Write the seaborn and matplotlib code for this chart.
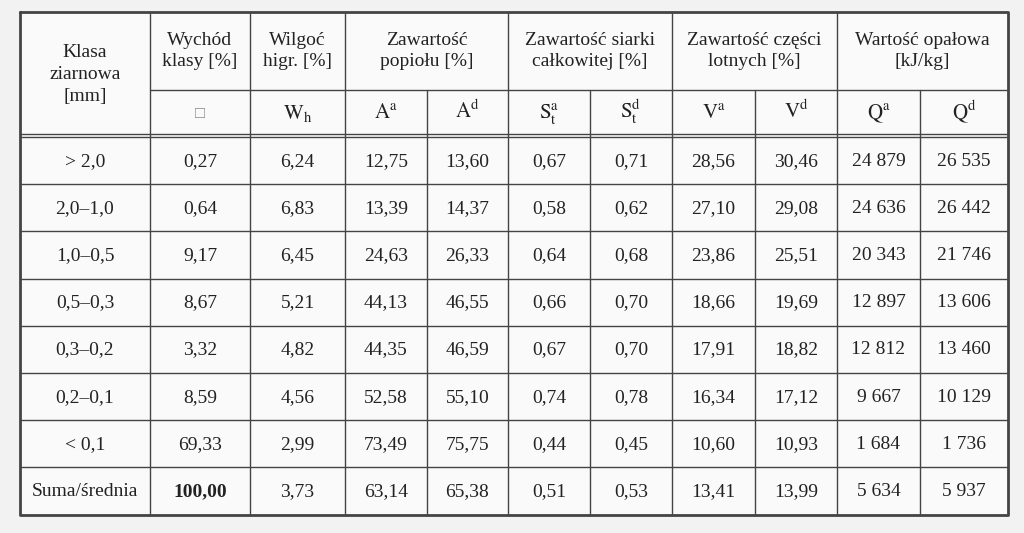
import matplotlib
matplotlib.use("Agg")
import matplotlib.pyplot as plt
import seaborn as sns

sns.set_style("white")
plt.rcParams["font.family"] = ["Liberation Serif", "DejaVu Serif"]
plt.rcParams["mathtext.fontset"] = "stix"

# --- dane tabeli ---
klasy = ["> 2,0", "2,0–1,0", "1,0–0,5", "0,5–0,3", "0,3–0,2", "0,2–0,1", "< 0,1", "Suma/średnia"]
wychod = ["0,27", "0,64", "9,17", "8,67", "3,32", "8,59", "69,33", "100,00"]
wilgoc = ["6,24", "6,83", "6,45", "5,21", "4,82", "4,56", "2,99", "3,73"]
popiol_a = ["12,75", "13,39", "24,63", "44,13", "44,35", "52,58", "73,49", "63,14"]
popiol_d = ["13,60", "14,37", "26,33", "46,55", "46,59", "55,10", "75,75", "65,38"]
siarka_a = ["0,67", "0,58", "0,64", "0,66", "0,67", "0,74", "0,44", "0,51"]
siarka_d = ["0,71", "0,62", "0,68", "0,70", "0,70", "0,78", "0,45", "0,53"]
lotne_a = ["28,56", "27,10", "23,86", "18,66", "17,91", "16,34", "10,60", "13,41"]
lotne_d = ["30,46", "29,08", "25,51", "19,69", "18,82", "17,12", "10,93", "13,99"]
q_a = ["24 879", "24 636", "20 343", "12 897", "12 812", "9 667", "1 684", "5 634"]
q_d = ["26 535", "26 442", "21 746", "13 606", "13 460", "10 129", "1 736", "5 937"]

naglowki_gora = ["Wychód\nklasy [%]", "Wilgoć\nhigr. [%]", "Zawartość\npopiołu [%]",
                 "Zawartość siarki\ncałkowitej [%]", "Zawartość części\nlotnych [%]",
                 "Wartość opałowa\n[kJ/kg]"]
naglowki_dol = ["□", r"$\mathrm{W_h}$", r"$\mathrm{A^a}$", r"$\mathrm{A^d}$",
                r"$\mathrm{S_t^a}$", r"$\mathrm{S_t^d}$", r"$\mathrm{V^a}$", r"$\mathrm{V^d}$",
                r"$\mathrm{Q^a}$", r"$\mathrm{Q^d}$"]

kolumny = [klasy, wychod, wilgoc, popiol_a, popiol_d, siarka_a, siarka_d,
           lotne_a, lotne_d, q_a, q_d]

# geometria (piksele)
xs = [20, 150, 250, 345, 427, 508, 590, 672, 755, 837, 920, 1008]
ys = [12, 90, 137] + [137 + 47.2 * (i + 1) for i in range(8)]
# grupy kolumn nagłówka górnego (indeksy krawędzi)
grupy = [(1, 2), (2, 3), (3, 5), (5, 7), (7, 9), (9, 11)]

fig = plt.figure(figsize=(10.24, 5.33), dpi=100)
fig.patch.set_facecolor("#f2f2f2")
ax = fig.add_axes([0, 0, 1, 1])
ax.set_xlim(0, 1024)
ax.set_ylim(533, 0)
ax.axis("off")
ax.add_patch(plt.Rectangle((xs[0], ys[0]), xs[-1] - xs[0], ys[-1] - ys[0],
                           facecolor="#fafafa", edgecolor="none"))

lc = "#444444"
fs = 14
# ramka zewnętrzna
ax.plot([xs[0], xs[-1], xs[-1], xs[0], xs[0]], [ys[0], ys[0], ys[-1], ys[-1], ys[0]],
        color=lc, lw=2)
# linie poziome
ax.plot([xs[1], xs[-1]], [ys[1], ys[1]], color=lc, lw=1)
for y in ys[2:-1]:
    ax.plot([xs[0], xs[-1]], [y, y], color=lc, lw=1)
# podwójna linia pod nagłówkiem
ax.plot([xs[0], xs[-1]], [ys[2] - 3, ys[2] - 3], color=lc, lw=1)
# linie pionowe
for i, x in enumerate(xs[1:-1], start=1):
    grupowe = any(a == i for a, b in grupy) or i == 1
    y0 = ys[0] if grupowe else ys[1]
    ax.plot([x, x], [y0, ys[-1]], color=lc, lw=1)

# nagłówki
ax.text((xs[0] + xs[1]) / 2, (ys[0] + ys[2]) / 2, "Klasa\nziarnowa\n[mm]",
        ha="center", va="center", fontsize=fs, linespacing=1.4, color="#222222")
for (a, b), t in zip(grupy, naglowki_gora):
    ax.text((xs[a] + xs[b]) / 2, (ys[0] + ys[1]) / 2, t, ha="center", va="center",
            fontsize=fs, linespacing=1.3, color="#222222")
for j, t in enumerate(naglowki_dol, start=1):
    ax.text((xs[j] + xs[j + 1]) / 2, (ys[1] + ys[2]) / 2 + 5, t, ha="center",
            va="baseline", fontsize=fs + 1 if j > 1 else 12,
            color="#888888" if j == 1 else "#222222")

# dane
for j, kol in enumerate(kolumny):
    for i, v in enumerate(kol):
        bold = (j == 1 and i == len(kol) - 1)
        ax.text((xs[j] + xs[j + 1]) / 2, (ys[i + 2] + ys[i + 3]) / 2 + 5, v,
                ha="center", va="baseline", fontsize=fs, color="#222222",
                fontweight="bold" if bold else "normal")

fig.savefig("out.png", dpi=100, facecolor=fig.get_facecolor())
